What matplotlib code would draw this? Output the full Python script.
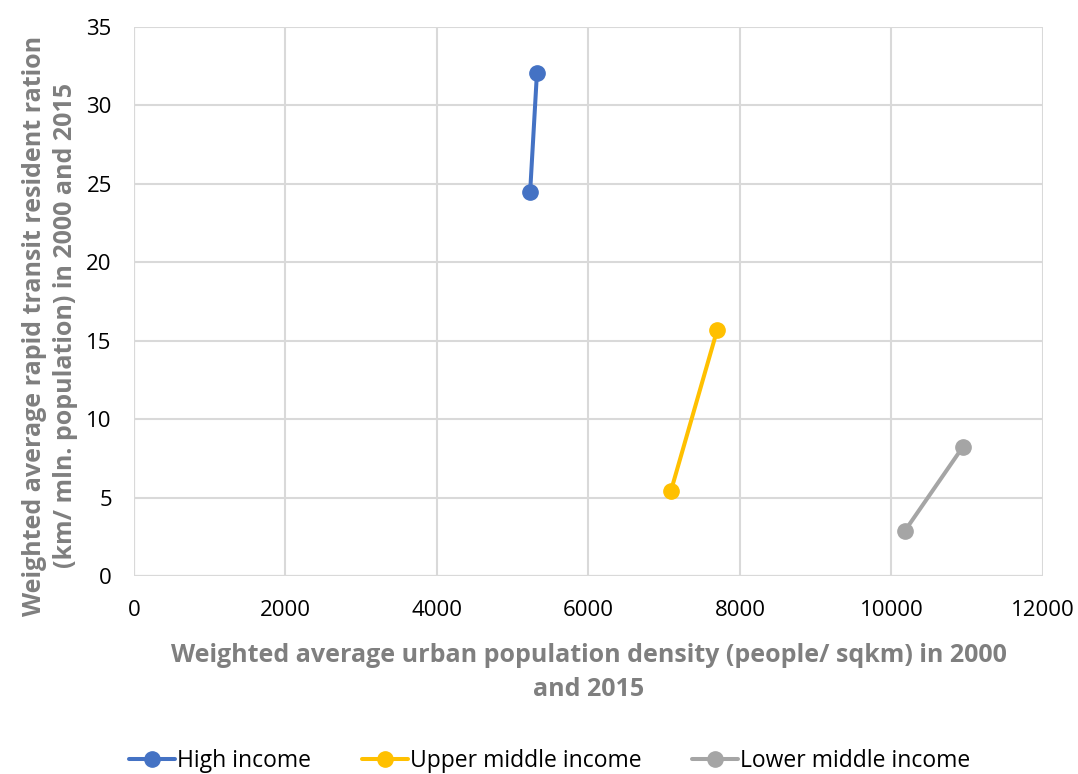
import matplotlib
matplotlib.use("Agg")
import matplotlib.pyplot as plt
from matplotlib.ticker import MultipleLocator

plt.rcParams['font.family'] = ['Open Sans', 'DejaVu Sans']

series_names = ["High income", "Upper middle income", "Lower middle income"]
density_2000_2015 = [
    [5230, 5320],
    [7090, 7700],
    [10180, 10945],
]
transit_ratio_2000_2015 = [
    [24.5, 32.1],
    [5.45, 15.7],
    [2.9, 8.25],
]
colors = ["#4472C4", "#FFC000", "#A5A5A5"]

fig = plt.figure(figsize=(10.78, 7.74), dpi=100)
ax = fig.add_axes([0.1243, 0.2558, 0.8432, 0.7093])

for name, xs, ys, c in zip(series_names, density_2000_2015, transit_ratio_2000_2015, colors):
    ax.plot(xs, ys, color=c, lw=2.9, marker='o', ms=11, label=name,
            solid_capstyle='round', zorder=3)

ax.set_xlim(0, 12000)
ax.set_ylim(0, 35)
ax.xaxis.set_major_locator(MultipleLocator(2000))
ax.yaxis.set_major_locator(MultipleLocator(5))
ax.grid(True, color='#D9D9D9', lw=1.5, zorder=0)
for s in ax.spines.values():
    s.set_visible(False)
ax.axhline(0, color='#D0D0D0', lw=1.5, zorder=1)
ax.axvline(0, color='#D0D0D0', lw=1.5, zorder=1)
ax.tick_params(axis='both', length=0, labelsize=16, colors='black')
ax.tick_params(axis='y', pad=16)
ax.tick_params(axis='x', pad=17)

label_color = '#7F7F7F'
ax.set_xlabel("Weighted average urban population density (people/ sqkm) in 2000\nand 2015",
              fontsize=18, fontweight='bold', color=label_color,
              linespacing=1.45)
ax.set_ylabel("Weighted average rapid transit resident ration\n(km/ mln. population) in 2000 and 2015",
              fontsize=18, fontweight='bold', color=label_color,
              linespacing=1.3)
ax.xaxis.set_label_coords(0.5, -0.122)
ax.yaxis.set_label_coords(-0.062, 0.456)

fig.legend(loc='lower center', bbox_to_anchor=(0.51, -0.026), ncol=3, frameon=False,
           fontsize=16.5, handlelength=2.0, handletextpad=0.1, columnspacing=2.2)

fig.savefig("out.png", dpi=100)
